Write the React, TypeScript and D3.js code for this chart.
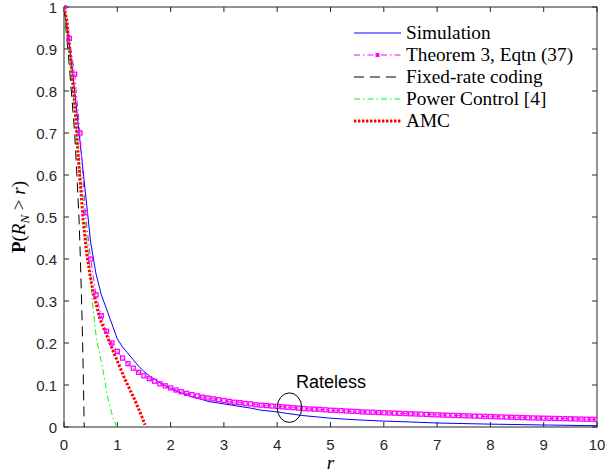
import React from "react";
import * as d3 from "d3";

const xTicks = [0, 1, 2, 3, 4, 5, 6, 7, 8, 9, 10];
const yTicks = [0, 0.1, 0.2, 0.3, 0.4, 0.5, 0.6, 0.7, 0.8, 0.9, 1];
const yTickLabels = ["0", "0.1", "0.2", "0.3", "0.4", "0.5", "0.6", "0.7", "0.8", "0.9", "1"];

const simR = [0, 0.1, 0.2, 0.3, 0.4, 0.5, 0.6, 0.7, 0.8, 0.9, 1.0, 1.1, 1.2, 1.3, 1.4, 1.5, 1.6, 1.8, 2.0, 2.2, 2.4, 2.6, 2.7, 3.0, 3.5, 3.7, 4.0, 4.2, 4.5, 5.0, 5.5, 6.0, 6.5, 7.0, 8.0, 9.0, 10.0];
const simP = [1, 0.91, 0.8, 0.68, 0.56, 0.44, 0.365, 0.315, 0.28, 0.245, 0.21, 0.19, 0.175, 0.16, 0.145, 0.132, 0.122, 0.105, 0.092, 0.081, 0.072, 0.065, 0.061, 0.055, 0.045, 0.04, 0.036, 0.032, 0.027, 0.021, 0.017, 0.014, 0.012, 0.0095, 0.0068, 0.0048, 0.003];

const thmR = [0, 0.1, 0.2, 0.3, 0.4, 0.5, 0.6, 0.7, 0.8, 0.9, 1.0, 1.1, 1.2, 1.3, 1.4, 1.5, 1.6, 1.7, 1.8, 1.9, 2.0, 2.1, 2.2, 2.3, 2.4, 2.5, 2.6, 2.7, 2.8, 2.9, 3.0, 3.1, 3.2, 3.3, 3.4, 3.5, 3.6, 3.7, 3.8, 3.9, 4.0, 4.1, 4.2, 4.3, 4.4, 4.5, 4.6, 4.7, 4.8, 4.9, 5.0, 5.1, 5.2, 5.3, 5.4, 5.5, 5.6, 5.7, 5.8, 5.9, 6.0, 6.1, 6.2, 6.3, 6.4, 6.5, 6.6, 6.7, 6.8, 6.9, 7.0, 7.1, 7.2, 7.3, 7.4, 7.5, 7.6, 7.7, 7.8, 7.9, 8.0, 8.1, 8.2, 8.3, 8.4, 8.5, 8.6, 8.7, 8.8, 8.9, 9.0, 9.1, 9.2, 9.3, 9.4, 9.5, 9.6, 9.7, 9.8, 9.9, 10.0];
const thmP = [1.0, 0.925, 0.84, 0.7, 0.51, 0.4, 0.315, 0.265, 0.228, 0.2, 0.18, 0.164, 0.151, 0.14, 0.13, 0.122, 0.115, 0.109, 0.103, 0.098, 0.093, 0.088, 0.084, 0.08, 0.077, 0.074, 0.071, 0.069, 0.067, 0.065, 0.063, 0.061, 0.059, 0.058, 0.056, 0.055, 0.053, 0.052, 0.051, 0.05, 0.049, 0.048, 0.047, 0.046, 0.045, 0.044, 0.043, 0.0425, 0.042, 0.041, 0.04, 0.0395, 0.039, 0.038, 0.0375, 0.037, 0.036, 0.0355, 0.035, 0.0345, 0.034, 0.0335, 0.033, 0.0325, 0.032, 0.0315, 0.031, 0.0305, 0.03, 0.0295, 0.029, 0.0285, 0.028, 0.0276, 0.0272, 0.0268, 0.0264, 0.026, 0.0256, 0.0252, 0.0248, 0.0244, 0.024, 0.0236, 0.0232, 0.0228, 0.0224, 0.022, 0.0216, 0.0213, 0.021, 0.0207, 0.0204, 0.0201, 0.0198, 0.0195, 0.0192, 0.0189, 0.0186, 0.0183, 0.018];

const fixedR = [0, 0.1, 0.2, 0.25, 0.28, 0.3, 0.33, 0.35, 0.365, 0.375, 0.38];
const fixedP = [1, 0.86, 0.7, 0.58, 0.5, 0.43, 0.3, 0.2, 0.1, 0.03, 0];

const powerR = [0, 0.1, 0.2, 0.3, 0.4, 0.5, 0.53, 0.6, 0.65, 0.72, 0.83, 0.93, 0.99];
const powerP = [1, 0.88, 0.75, 0.62, 0.49, 0.36, 0.3, 0.22, 0.185, 0.144, 0.064, 0.017, 0];

const amcR = [0, 0.05, 0.14, 0.21, 0.27, 0.33, 0.36, 0.43, 0.49, 0.55, 0.68, 0.86, 0.99, 1.15, 1.33, 1.46, 1.52];
const amcP = [1, 0.97, 0.86, 0.755, 0.64, 0.54, 0.49, 0.41, 0.36, 0.32, 0.255, 0.2, 0.16, 0.112, 0.064, 0.025, 0.005];

const legendLabels = ["Simulation", "Theorem 3, Eqtn (37)", "Fixed-rate coding", "Power Control [4]", "AMC"];

const annX = 4.23;
const annY = 0.046;

const W = 605;
const H = 474;
const x = d3.scaleLinear().domain([0, 10]).range([64, 597]);
const y = d3.scaleLinear().domain([0, 1]).range([427, 7]);

const zip = (r: number[], p: number[]) => r.map((v, i) => [v, p[i]] as [number, number]);
const line = d3.line<[number, number]>().x((d) => x(d[0])).y((d) => y(d[1]));

const AX = "#262626";
const SANS = "'Liberation Sans', Arial, sans-serif";
const SERIF = "'Liberation Serif', 'Times New Roman', serif";

const styles = [
  { stroke: "#0000ff", width: 1, dash: "" },
  { stroke: "#ff00ff", width: 1, dash: "6,3,1.5,3" },
  { stroke: "#000000", width: 1, dash: "10,6" },
  { stroke: "#00ff00", width: 1, dash: "6,3,1.5,3" },
  { stroke: "#ff0000", width: 3, dash: "2.4,1.6" },
];

export default function App() {
  const series = [
    zip(simR, simP),
    zip(thmR, thmP),
    zip(fixedR, fixedP),
    zip(powerR, powerP),
    zip(amcR, amcP),
  ];
  const thm = series[1];
  const [x0, x1] = x.range();
  const [yb, yt] = y.range();
  const legX0 = 354;
  const legX1 = 401;
  const legY0 = 33;
  const legDy = 22;
  return (
    <svg width={W} height={H} style={{ position: "absolute", left: 0, top: 0, background: "#fff" }}>
      <rect x={0} y={0} width={W} height={H} fill="#fff" />
      <defs>
        <clipPath id="plotclip">
          <rect x={x0} y={yt - 2} width={x1 - x0} height={yb - yt + 2} />
        </clipPath>
      </defs>
      <rect x={x0} y={yt} width={x1 - x0} height={yb - yt} fill="none" stroke={AX} strokeWidth={1} />
      {xTicks.map((t) => (
        <g key={"xt" + t}>
          <line x1={x(t)} x2={x(t)} y1={yb} y2={yb - 5} stroke={AX} />
          <line x1={x(t)} x2={x(t)} y1={yt} y2={yt + 5} stroke={AX} />
          <text x={x(t)} y={450} textAnchor="middle" fontFamily={SANS} fontSize={15} fill={AX}>
            {t}
          </text>
        </g>
      ))}
      {yTicks.map((t, i) => (
        <g key={"yt" + t}>
          <line x1={x0} x2={x0 + 5} y1={y(t)} y2={y(t)} stroke={AX} />
          <line x1={x1} x2={x1 - 5} y1={y(t)} y2={y(t)} stroke={AX} />
          <text x={57} y={y(t) + 5.5} textAnchor="end" fontFamily={SANS} fontSize={15} fill={AX}>
            {yTickLabels[i]}
          </text>
        </g>
      ))}
      <g clipPath="url(#plotclip)">
        {series.map((s, i) => (
          <path
            key={"s" + i}
            d={line(s) || ""}
            fill="none"
            stroke={styles[i].stroke}
            strokeWidth={styles[i].width}
            strokeDasharray={styles[i].dash || undefined}
          />
        ))}
        {thm.map((d, i) => (
          <rect
            key={"m" + i}
            x={x(d[0]) - 2}
            y={y(d[1]) - 2}
            width={4}
            height={4}
            fill="none"
            stroke="#ff00ff"
            strokeWidth={1.3}
          />
        ))}
      </g>
      <ellipse cx={x(annX)} cy={y(annY)} rx={12.3} ry={14.8} fill="none" stroke="#000" strokeWidth={1} />
      <text x={296} y={388} fontFamily={SANS} fontSize={18} fill="#000">
        Rateless
      </text>
      {legendLabels.map((lab, i) => {
        const ly = legY0 + i * legDy;
        return (
          <g key={"lg" + i}>
            <line
              x1={legX0}
              x2={legX1}
              y1={ly}
              y2={ly}
              stroke={styles[i].stroke}
              strokeWidth={styles[i].width}
              strokeDasharray={styles[i].dash || undefined}
            />
            {i === 1 && <rect x={(legX0 + legX1) / 2 - 2} y={ly - 2} width={4} height={4} fill="#ff00ff" />}
            <text x={406} y={ly + 6} fontFamily={SERIF} fontSize={19.3} fill="#000">
              {lab}
            </text>
          </g>
        );
      })}
      <text x={(x0 + x1) / 2} y={469} textAnchor="middle" fontFamily={SERIF} fontStyle="italic" fontSize={19} fill="#000">
        r
      </text>
      <text transform={`translate(25,${(yt + yb) / 2}) rotate(-90)`} textAnchor="middle" fontFamily={SERIF} fontSize={19} fill="#000">
        <tspan fontWeight="bold">P</tspan>
        <tspan>(</tspan>
        <tspan fontStyle="italic">R</tspan>
        <tspan fontStyle="italic" fontSize={13} dy={4}>N</tspan>
        <tspan dy={-4}> &gt; </tspan>
        <tspan fontStyle="italic">r</tspan>
        <tspan>)</tspan>
      </text>
    </svg>
  );
}
